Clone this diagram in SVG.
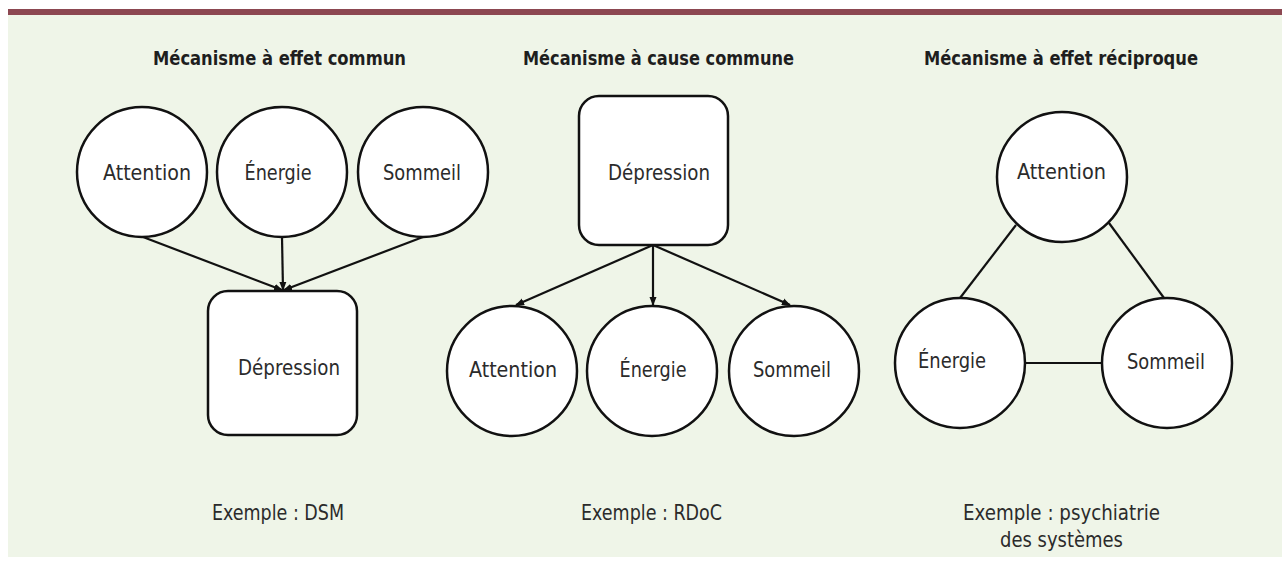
<svg xmlns="http://www.w3.org/2000/svg" width="1282" height="571" viewBox="0 0 1282 571">
<defs>
<style>
.bg{fill:#eff5e8}
.bar{fill:#8c4751}
.node{fill:#ffffff;stroke:#111;stroke-width:2.5}
.lbl{font-family:"DejaVu Sans Condensed","DejaVu Sans",sans-serif;font-size:22px;fill:#2b2b2b;text-anchor:middle}
.ttl{font-family:"DejaVu Sans Condensed","DejaVu Sans",sans-serif;font-size:20px;font-weight:bold;fill:#1e1e1e;text-anchor:middle}
.ex{font-family:"DejaVu Sans Condensed","DejaVu Sans",sans-serif;font-size:21px;fill:#2b2b2b;text-anchor:middle}
.edge{stroke:#111;stroke-width:2.2;fill:none}
</style>
<marker id="arr" markerWidth="9" markerHeight="9" refX="8" refY="4.5" orient="auto" markerUnits="userSpaceOnUse">
<path d="M0,1 L9,4.5 L0,8 Z" fill="#111"/>
</marker>
</defs>
<rect class="bg" x="8" y="15" width="1274" height="542"/>
<rect class="bar" x="8" y="9" width="1274" height="6"/>

<g id="titles">
<text class="ttl" x="279.5" y="65" textLength="253" lengthAdjust="spacingAndGlyphs">Mécanisme à effet commun</text>
<text class="ttl" x="658.5" y="65" textLength="271" lengthAdjust="spacingAndGlyphs">Mécanisme à cause commune</text>
<text class="ttl" x="1061" y="65" textLength="274" lengthAdjust="spacingAndGlyphs">Mécanisme à effet réciproque</text>
</g>

<g id="connectors">
<line class="edge" x1="143" y1="237" x2="282" y2="290" marker-end="url(#arr)"/>
<line class="edge" x1="282" y1="237" x2="283" y2="290" marker-end="url(#arr)"/>
<line class="edge" x1="423" y1="237" x2="284" y2="290" marker-end="url(#arr)"/>
<line class="edge" x1="653" y1="245" x2="516" y2="305" marker-end="url(#arr)"/>
<line class="edge" x1="653" y1="245" x2="653" y2="305" marker-end="url(#arr)"/>
<line class="edge" x1="653" y1="245" x2="790" y2="305" marker-end="url(#arr)"/>
<line class="edge" x1="1016" y1="225" x2="960" y2="298"/>
<line class="edge" x1="1109" y1="223" x2="1164" y2="298"/>
<line class="edge" x1="1025" y1="363" x2="1102" y2="363"/>
</g>

<g id="p1-attention"><circle class="node" cx="142" cy="172" r="65"/><text class="lbl" x="147" y="180" textLength="88" lengthAdjust="spacingAndGlyphs">Attention</text></g>
<g id="p1-energie"><circle class="node" cx="282" cy="172" r="65"/><text class="lbl" x="278" y="180" textLength="67" lengthAdjust="spacingAndGlyphs">Énergie</text></g>
<g id="p1-sommeil"><circle class="node" cx="423" cy="172" r="65"/><text class="lbl" x="422" y="180" textLength="78" lengthAdjust="spacingAndGlyphs">Sommeil</text></g>
<g id="p1-depression"><rect class="node" x="208" y="291" width="149" height="144" rx="20"/><text class="lbl" x="289" y="375" textLength="102" lengthAdjust="spacingAndGlyphs">Dépression</text></g>

<g id="p2-depression"><rect class="node" x="579" y="96" width="149" height="149" rx="20"/><text class="lbl" x="659" y="180" textLength="102" lengthAdjust="spacingAndGlyphs">Dépression</text></g>
<g id="p2-attention"><circle class="node" cx="512" cy="371" r="65"/><text class="lbl" x="513" y="377" textLength="88" lengthAdjust="spacingAndGlyphs">Attention</text></g>
<g id="p2-energie"><circle class="node" cx="652" cy="371" r="65"/><text class="lbl" x="653" y="377" textLength="67" lengthAdjust="spacingAndGlyphs">Énergie</text></g>
<g id="p2-sommeil"><circle class="node" cx="794" cy="371" r="65"/><text class="lbl" x="792" y="377" textLength="78" lengthAdjust="spacingAndGlyphs">Sommeil</text></g>

<g id="p3-attention"><circle class="node" cx="1062" cy="177" r="65"/><text class="lbl" x="1061.5" y="179" textLength="89" lengthAdjust="spacingAndGlyphs">Attention</text></g>
<g id="p3-energie"><circle class="node" cx="960" cy="363" r="65"/><text class="lbl" x="952" y="368" textLength="68" lengthAdjust="spacingAndGlyphs">Énergie</text></g>
<g id="p3-sommeil"><circle class="node" cx="1167" cy="363" r="65"/><text class="lbl" x="1166" y="369" textLength="78" lengthAdjust="spacingAndGlyphs">Sommeil</text></g>

<g id="examples">
<text class="ex" x="278" y="520" textLength="132" lengthAdjust="spacingAndGlyphs">Exemple : DSM</text>
<text class="ex" x="651.5" y="520" textLength="141" lengthAdjust="spacingAndGlyphs">Exemple : RDoC</text>
<text class="ex" x="1061.5" y="520" textLength="197" lengthAdjust="spacingAndGlyphs">Exemple : psychiatrie</text>
<text class="ex" x="1061.5" y="547" textLength="123" lengthAdjust="spacingAndGlyphs">des systèmes</text>
</g>
</svg>
